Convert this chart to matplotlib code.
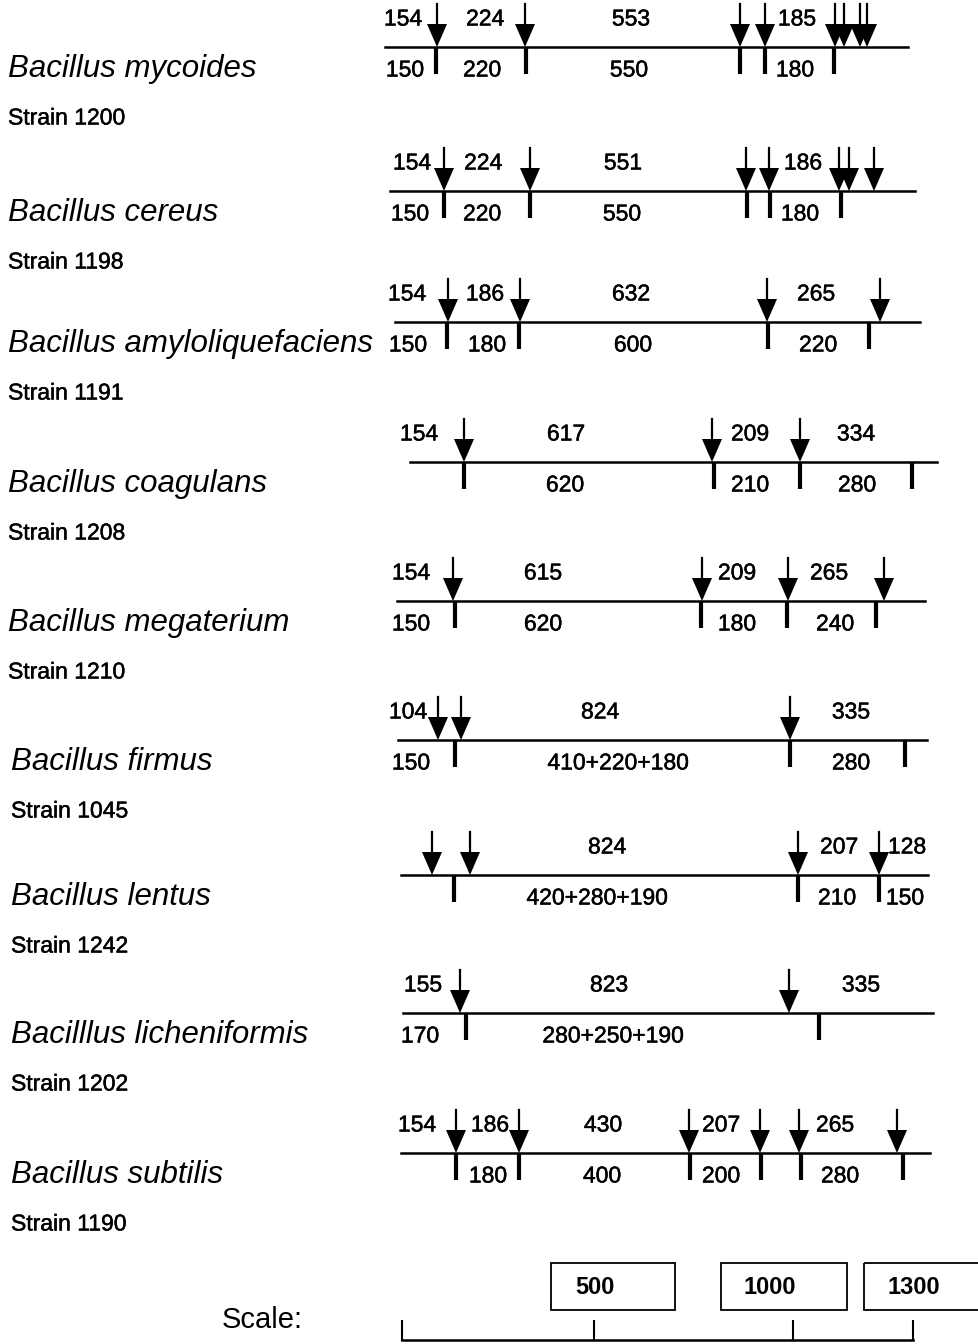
import matplotlib.pyplot as plt
import matplotlib.patheffects as pe
from matplotlib.patches import Polygon, Rectangle

plt.rcParams['font.family'] = ['Liberation Sans', 'DejaVu Sans']

# one row per strain
species = ['Bacillus mycoides', 'Bacillus cereus', 'Bacillus amyloliquefaciens',
           'Bacillus coagulans', 'Bacillus megaterium', 'Bacillus firmus',
           'Bacillus lentus', 'Bacilllus licheniformis', 'Bacillus subtilis']
strains = ['Strain 1200', 'Strain 1198', 'Strain 1191', 'Strain 1208', 'Strain 1210',
           'Strain 1045', 'Strain 1242', 'Strain 1202', 'Strain 1190']

# map extent and cut sites (arrows above = predicted, ticks below = observed)
map_start = [385, 390, 395, 410, 397, 398, 401, 403, 401]
map_end = [908, 915, 920, 937, 925, 927, 928, 933, 930]
arrow_sites = [
    [437, 525, 740, 765, 835, 844, 860, 867],
    [444, 530, 746, 769, 839, 849, 874],
    [448, 520, 767, 880],
    [464, 712, 800],
    [453, 702, 788, 884],
    [438, 461, 790],
    [432, 470, 798, 879],
    [460, 789],
    [456, 519, 689, 760, 799, 897],
]
tick_sites = [
    [436, 526, 740, 765, 834],
    [444, 530, 747, 770, 841],
    [447, 519, 768, 869],
    [464, 714, 800, 912],
    [455, 701, 787, 876],
    [455, 790, 905],
    [454, 798, 879],
    [466, 819],
    [456, 519, 690, 761, 801, 903],
]
top_labels = [
    [('154', 403), ('224', 485), ('553', 631), ('185', 797)],
    [('154', 412), ('224', 483), ('551', 623), ('186', 803)],
    [('154', 407), ('186', 485), ('632', 631), ('265', 816)],
    [('154', 419), ('617', 566), ('209', 750), ('334', 856)],
    [('154', 411), ('615', 543), ('209', 737), ('265', 829)],
    [('104', 408), ('824', 600), ('335', 851)],
    [('824', 607), ('207', 839), ('128', 907)],
    [('155', 423), ('823', 609), ('335', 861)],
    [('154', 417), ('186', 490), ('430', 603), ('207', 721), ('265', 835)],
]
bottom_labels = [
    [('150', 405), ('220', 482), ('550', 629), ('180', 795)],
    [('150', 410), ('220', 482), ('550', 622), ('180', 800)],
    [('150', 408), ('180', 487), ('600', 633), ('220', 818)],
    [('620', 565), ('210', 750), ('280', 857)],
    [('150', 411), ('620', 543), ('180', 737), ('240', 835)],
    [('150', 411), ('410+220+180', 618), ('280', 851)],
    [('420+280+190', 597), ('210', 837), ('150', 905)],
    [('170', 420), ('280+250+190', 613)],
    [('180', 488), ('400', 602), ('200', 721), ('280', 840)],
]

scale_bp = [500, 1000, 1300]
scale_x = [594, 793, 913]

row_y = [47, 191, 322, 462, 601, 740, 875, 1013, 1153]
label_x = [8, 8, 8, 8, 8, 11, 11, 11, 11]

fig = plt.figure(figsize=(9.79, 13.44), dpi=100)
ax = fig.add_axes([0, 0, 1, 1])
ax.set_xlim(0, 979)
ax.set_ylim(1344, 0)
ax.axis('off')

semi = [pe.withStroke(linewidth=0.35, foreground='black')]

for i, y in enumerate(row_y):
    ax.text(label_x[i], y + 22, species[i], fontsize=22.5, style='italic',
            va='center', ha='left')
    ax.text(label_x[i], y + 71, strains[i], fontsize=16.5, va='center', ha='left',
            path_effects=semi)
    ax.plot([map_start[i], map_end[i]], [y, y], color='black', lw=1.8)
    for x in arrow_sites[i]:
        ax.plot([x, x], [y - 43, y - 20], color='black', lw=1.6)
        ax.add_patch(Polygon([[x - 10, y - 23], [x + 10, y - 23], [x, y]],
                             closed=True, color='black', lw=0))
    for x in tick_sites[i]:
        ax.plot([x, x], [y, y + 27], color='black', lw=3, solid_capstyle='butt')
    for t, x in top_labels[i]:
        ax.text(x, y - 28, t, fontsize=16.5, ha='center', va='center', path_effects=semi)
    for t, x in bottom_labels[i]:
        ax.text(x, y + 23, t, fontsize=16.5, ha='center', va='center', path_effects=semi)

# scale bar
ax.text(262, 1320, 'Scale:', fontsize=21, ha='center', va='center')
ax.plot([402, scale_x[-1]], [1340, 1340], color='black', lw=1.8)
for x in [402] + scale_x:
    ax.plot([x, x], [1321, 1340], color='black', lw=1.5)
box_left = [551, 721, 864]
box_w = [124, 126, 118]
box_text_x = [595, 770, 914]
for bp, tx, bx, bw in zip(scale_bp, box_text_x, box_left, box_w):
    ax.add_patch(Rectangle((bx, 1263), bw, 47, fill=False, ec='black', lw=1.3))
    ax.text(tx, 1287, str(bp), fontsize=17, fontweight='bold', ha='center', va='center')

fig.savefig('out.png', dpi=100)
